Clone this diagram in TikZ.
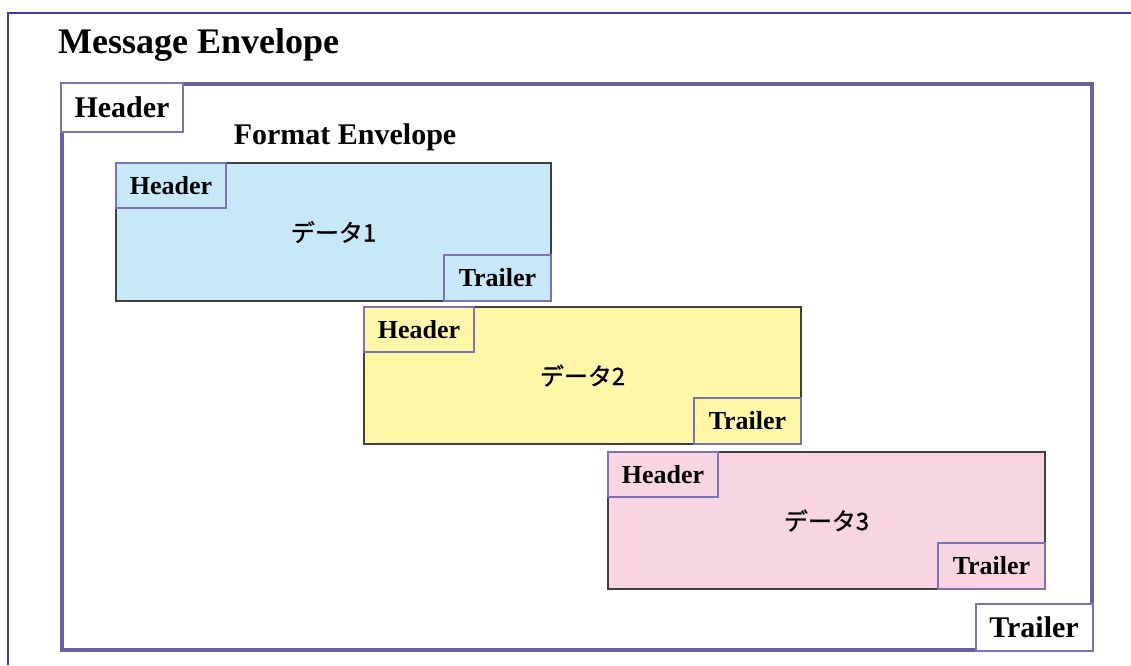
\documentclass[tikz,border=0pt]{standalone}
\usepackage{fontspec}
\setmainfont{Liberation Serif}
\newfontfamily\jpfont[FakeBold=1.2]{Noto Sans CJK JP}
\usetikzlibrary{positioning}

\definecolor{pageline}{HTML}{3B3B9C}
\definecolor{envline}{HTML}{6A5F9F}
\definecolor{subline}{HTML}{7D70B3}
\definecolor{datablue}{HTML}{C6E8F8}
\definecolor{datayellow}{HTML}{FFF7A8}
\definecolor{datapink}{HTML}{F8D5E3}

\begin{document}
\begin{tikzpicture}[
    x=1pt, y=-1pt,
    envelope/.style={
        draw=envline, line width=3.5pt,
        anchor=north west, inner sep=0pt
    },
    databox/.style={
        draw=black!75, line width=2pt,
        minimum width=437pt, minimum height=137pt,
        anchor=north west, inner sep=0pt,
        font=\jpfont\fontsize{24}{28}\selectfont
    },
    hdrbox/.style={
        draw=subline, line width=2pt, inner sep=0pt,
        minimum width=110pt, minimum height=45pt, anchor=north west,
        font=\bfseries\fontsize{26}{30}\selectfont
    },
    trlbox/.style={
        draw=subline, line width=2pt, inner sep=0pt,
        minimum width=107pt, minimum height=46pt, anchor=south east,
        font=\bfseries\fontsize{26}{30}\selectfont
    },
    bigtext/.style={font=\bfseries\fontsize{30}{30}\selectfont}
]
    \useasboundingbox (0,0) rectangle (1131,665);

    % page frame
    \draw[pageline, line width=2pt] (8,665) -- (8,13) -- (1131,13);
    \node[font=\bfseries\fontsize{36}{36}\selectfont, anchor=west, inner sep=0pt] (mtitle) at (58,45) {Message Envelope};

    % Message envelope
    \node[envelope, minimum width=1030pt, minimum height=566pt] (menv) at (60,82) {};
    \node[hdrbox, bigtext, fill=white, minimum width=122pt, minimum height=49pt] (mhdr) at (menv.north west) {Header};
    \node[trlbox, bigtext, fill=white, minimum width=117pt, minimum height=47pt] (mtrl) at (menv.south east) {Trailer};
    \node[bigtext, inner sep=0pt] (ftitle) at (345,137) {Format Envelope};

    % Format envelope 1 (blue)
    \node[databox, fill=datablue, minimum width=435pt, minimum height=138pt] (d1) at (115,162) {データ1};
    \node[hdrbox, fill=datablue] (h1) at (d1.north west) {Header};
    \node[trlbox, fill=datablue] (t1) at (d1.south east) {Trailer};

    % Format envelope 2 (yellow)
    \node[databox, fill=datayellow] (d2) at (363,306) {データ2};
    \node[hdrbox, fill=datayellow] (h2) at (d2.north west) {Header};
    \node[trlbox, fill=datayellow] (t2) at (d2.south east) {Trailer};

    % Format envelope 3 (pink)
    \node[databox, fill=datapink] (d3) at (607,451) {データ3};
    \node[hdrbox, fill=datapink] (h3) at (d3.north west) {Header};
    \node[trlbox, fill=datapink] (t3) at (d3.south east) {Trailer};

\end{tikzpicture}
\end{document}
